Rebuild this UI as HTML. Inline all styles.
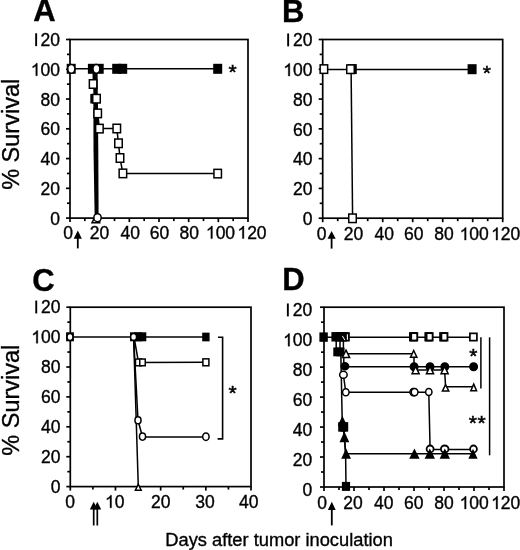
<!DOCTYPE html>
<html><head><meta charset="utf-8"><style>
html,body{margin:0;padding:0;background:#fff;width:520px;height:550px;overflow:hidden}
svg{display:block;will-change:transform}
text{font-family:"Liberation Sans",sans-serif;fill:#000;stroke:#000;stroke-width:0.35px}
.b{stroke-width:0.5px}
</style></head><body>
<svg width="520" height="550" viewBox="0 0 520 550">

<rect x="70.00" y="39.50" width="178.00" height="178.60" fill="none" stroke="#000" stroke-width="1.7"/>
<line x1="70.00" y1="218.10" x2="70.00" y2="222.10" stroke="#000" stroke-width="1.7"/>
<line x1="99.67" y1="218.10" x2="99.67" y2="222.10" stroke="#000" stroke-width="1.7"/>
<line x1="129.33" y1="218.10" x2="129.33" y2="222.10" stroke="#000" stroke-width="1.7"/>
<line x1="159.00" y1="218.10" x2="159.00" y2="222.10" stroke="#000" stroke-width="1.7"/>
<line x1="188.67" y1="218.10" x2="188.67" y2="222.10" stroke="#000" stroke-width="1.7"/>
<line x1="218.33" y1="218.10" x2="218.33" y2="222.10" stroke="#000" stroke-width="1.7"/>
<line x1="248.00" y1="218.10" x2="248.00" y2="222.10" stroke="#000" stroke-width="1.7"/>
<line x1="84.83" y1="218.10" x2="84.83" y2="221.10" stroke="#000" stroke-width="1.7"/>
<line x1="114.50" y1="218.10" x2="114.50" y2="221.10" stroke="#000" stroke-width="1.7"/>
<line x1="144.17" y1="218.10" x2="144.17" y2="221.10" stroke="#000" stroke-width="1.7"/>
<line x1="173.83" y1="218.10" x2="173.83" y2="221.10" stroke="#000" stroke-width="1.7"/>
<line x1="203.50" y1="218.10" x2="203.50" y2="221.10" stroke="#000" stroke-width="1.7"/>
<line x1="233.17" y1="218.10" x2="233.17" y2="221.10" stroke="#000" stroke-width="1.7"/>
<line x1="66.00" y1="218.10" x2="70.00" y2="218.10" stroke="#000" stroke-width="1.7"/>
<line x1="66.00" y1="188.33" x2="70.00" y2="188.33" stroke="#000" stroke-width="1.7"/>
<line x1="66.00" y1="158.57" x2="70.00" y2="158.57" stroke="#000" stroke-width="1.7"/>
<line x1="66.00" y1="128.80" x2="70.00" y2="128.80" stroke="#000" stroke-width="1.7"/>
<line x1="66.00" y1="99.03" x2="70.00" y2="99.03" stroke="#000" stroke-width="1.7"/>
<line x1="66.00" y1="69.27" x2="70.00" y2="69.27" stroke="#000" stroke-width="1.7"/>
<line x1="66.00" y1="39.50" x2="70.00" y2="39.50" stroke="#000" stroke-width="1.7"/>
<line x1="67.00" y1="203.22" x2="70.00" y2="203.22" stroke="#000" stroke-width="1.7"/>
<line x1="67.00" y1="173.45" x2="70.00" y2="173.45" stroke="#000" stroke-width="1.7"/>
<line x1="67.00" y1="143.68" x2="70.00" y2="143.68" stroke="#000" stroke-width="1.7"/>
<line x1="67.00" y1="113.92" x2="70.00" y2="113.92" stroke="#000" stroke-width="1.7"/>
<line x1="67.00" y1="84.15" x2="70.00" y2="84.15" stroke="#000" stroke-width="1.7"/>
<line x1="67.00" y1="54.38" x2="70.00" y2="54.38" stroke="#000" stroke-width="1.7"/>
<text x="50.27" y="224.60" font-size="17.5">0</text>
<text x="40.53" y="194.83" font-size="17.5">2</text><text x="50.27" y="194.83" font-size="17.5">0</text>
<text x="40.53" y="165.07" font-size="17.5">4</text><text x="50.27" y="165.07" font-size="17.5">0</text>
<text x="40.53" y="135.30" font-size="17.5">6</text><text x="50.27" y="135.30" font-size="17.5">0</text>
<text x="40.53" y="105.53" font-size="17.5">8</text><text x="50.27" y="105.53" font-size="17.5">0</text>
<path transform="translate(30.80,75.77) scale(0.008545,-0.008545)" d="M763 0H583V1147C540 1106 483 1065 412 1023C341 981 277 950 221 928V1102C322 1150 411 1207 486 1274C561 1341 614 1407 645 1472H763Z" stroke="#000" stroke-width="41.0"/><text x="40.53" y="75.77" font-size="17.5">0</text><text x="50.27" y="75.77" font-size="17.5">0</text>
<rect x="35.20" y="33.27" width="1.89" height="12.88" fill="#000"/><text x="40.53" y="46.00" font-size="17.5">2</text><text x="50.27" y="46.00" font-size="17.5">0</text>
<text x="63.23" y="238.60" font-size="17.5">0</text>
<text x="89.72" y="238.60" font-size="17.5">2</text><text x="99.45" y="238.60" font-size="17.5">0</text>
<text x="120.47" y="238.60" font-size="17.5">4</text><text x="130.20" y="238.60" font-size="17.5">0</text>
<text x="149.87" y="238.60" font-size="17.5">6</text><text x="159.60" y="238.60" font-size="17.5">0</text>
<text x="179.57" y="238.60" font-size="17.5">8</text><text x="189.30" y="238.60" font-size="17.5">0</text>
<path transform="translate(205.90,238.60) scale(0.008545,-0.008545)" d="M763 0H583V1147C540 1106 483 1065 412 1023C341 981 277 950 221 928V1102C322 1150 411 1207 486 1274C561 1341 614 1407 645 1472H763Z" stroke="#000" stroke-width="41.0"/><text x="215.63" y="238.60" font-size="17.5">0</text><text x="225.37" y="238.60" font-size="17.5">0</text>
<path transform="translate(237.40,238.60) scale(0.008545,-0.008545)" d="M763 0H583V1147C540 1106 483 1065 412 1023C341 981 277 950 221 928V1102C322 1150 411 1207 486 1274C561 1341 614 1407 645 1472H763Z" stroke="#000" stroke-width="41.0"/><text x="247.13" y="238.60" font-size="17.5">2</text><text x="256.87" y="238.60" font-size="17.5">0</text>
<text x="44.40" y="21.40" font-size="31" text-anchor="middle" font-weight="bold" >A</text>
<polyline points="70.50,68.80 217.70,68.80" fill="none" stroke="#000" stroke-width="1.5" stroke-linejoin="miter"/>
<polyline points="93.30,68.80 93.30,84.00 96.30,98.70 97.70,113.40 99.40,128.60 116.80,128.50 118.50,143.30 120.00,158.00 122.90,173.40 217.70,173.60" fill="none" stroke="#000" stroke-width="1.5" stroke-linejoin="miter"/>
<polygon points="93.3,72 97.6,72 98.3,150 98.6,214 94.6,214 93.5,150" fill="#000"/>
<polygon points="95.80,214.93 99.61,222.85 91.99,222.85" fill="#fff" stroke="#000" stroke-width="1.5" stroke-linejoin="miter" stroke-miterlimit="10"/>
<rect x="90.3" y="93.9" width="3.5" height="9.6" fill="#000"/>
<rect x="89.35" y="79.75" width="7.50" height="8.50" fill="#fff" stroke="#000" stroke-width="1.5"/>
<rect x="92.75" y="94.45" width="7.50" height="8.50" fill="#fff" stroke="#000" stroke-width="1.5"/>
<rect x="93.95" y="109.15" width="7.50" height="8.50" fill="#fff" stroke="#000" stroke-width="1.5"/>
<rect x="95.65" y="124.35" width="7.50" height="8.50" fill="#fff" stroke="#000" stroke-width="1.5"/>
<rect x="113.05" y="124.25" width="7.50" height="8.50" fill="#fff" stroke="#000" stroke-width="1.5"/>
<rect x="114.75" y="139.05" width="7.50" height="8.50" fill="#fff" stroke="#000" stroke-width="1.5"/>
<rect x="116.25" y="153.75" width="7.50" height="8.50" fill="#fff" stroke="#000" stroke-width="1.5"/>
<rect x="119.15" y="169.15" width="7.50" height="8.50" fill="#fff" stroke="#000" stroke-width="1.5"/>
<rect x="213.95" y="169.35" width="7.50" height="8.50" fill="#fff" stroke="#000" stroke-width="1.5"/>
<rect x="67.45" y="64.55" width="7.50" height="8.50" fill="#000" stroke="#000" stroke-width="1.5"/>
<rect x="88.65" y="64.55" width="7.50" height="8.50" fill="#000" stroke="#000" stroke-width="1.5"/>
<rect x="95.45" y="64.55" width="7.50" height="8.50" fill="#000" stroke="#000" stroke-width="1.5"/>
<rect x="112.95" y="64.55" width="7.50" height="8.50" fill="#000" stroke="#000" stroke-width="1.5"/>
<rect x="118.95" y="64.55" width="7.50" height="8.50" fill="#000" stroke="#000" stroke-width="1.5"/>
<rect x="213.95" y="64.55" width="7.50" height="8.50" fill="#000" stroke="#000" stroke-width="1.5"/>
<ellipse cx="71.30" cy="68.80" rx="3.55" ry="4.35" fill="#fff" stroke="#000" stroke-width="1.5"/>
<ellipse cx="96.40" cy="68.80" rx="3.45" ry="4.35" fill="#fff" stroke="#000" stroke-width="1.5"/>
<ellipse cx="97.50" cy="217.70" rx="3.65" ry="4.05" fill="#fff" stroke="#000" stroke-width="1.5"/>
<text x="232.70" y="79.27" font-size="21.0" text-anchor="middle" class="b">*</text>
<polygon points="77.80,230.60 81.90,238.75 73.70,238.75" fill="#000"/>
<line x1="77.80" y1="237.75" x2="77.80" y2="248.40" stroke="#000" stroke-width="1.8"/>
<rect x="322.70" y="39.50" width="180.00" height="178.70" fill="none" stroke="#000" stroke-width="1.7"/>
<line x1="322.70" y1="218.20" x2="322.70" y2="222.20" stroke="#000" stroke-width="1.7"/>
<line x1="352.70" y1="218.20" x2="352.70" y2="222.20" stroke="#000" stroke-width="1.7"/>
<line x1="382.70" y1="218.20" x2="382.70" y2="222.20" stroke="#000" stroke-width="1.7"/>
<line x1="412.70" y1="218.20" x2="412.70" y2="222.20" stroke="#000" stroke-width="1.7"/>
<line x1="442.70" y1="218.20" x2="442.70" y2="222.20" stroke="#000" stroke-width="1.7"/>
<line x1="472.70" y1="218.20" x2="472.70" y2="222.20" stroke="#000" stroke-width="1.7"/>
<line x1="502.70" y1="218.20" x2="502.70" y2="222.20" stroke="#000" stroke-width="1.7"/>
<line x1="337.70" y1="218.20" x2="337.70" y2="221.20" stroke="#000" stroke-width="1.7"/>
<line x1="367.70" y1="218.20" x2="367.70" y2="221.20" stroke="#000" stroke-width="1.7"/>
<line x1="397.70" y1="218.20" x2="397.70" y2="221.20" stroke="#000" stroke-width="1.7"/>
<line x1="427.70" y1="218.20" x2="427.70" y2="221.20" stroke="#000" stroke-width="1.7"/>
<line x1="457.70" y1="218.20" x2="457.70" y2="221.20" stroke="#000" stroke-width="1.7"/>
<line x1="487.70" y1="218.20" x2="487.70" y2="221.20" stroke="#000" stroke-width="1.7"/>
<line x1="318.70" y1="218.20" x2="322.70" y2="218.20" stroke="#000" stroke-width="1.7"/>
<line x1="318.70" y1="188.42" x2="322.70" y2="188.42" stroke="#000" stroke-width="1.7"/>
<line x1="318.70" y1="158.63" x2="322.70" y2="158.63" stroke="#000" stroke-width="1.7"/>
<line x1="318.70" y1="128.85" x2="322.70" y2="128.85" stroke="#000" stroke-width="1.7"/>
<line x1="318.70" y1="99.07" x2="322.70" y2="99.07" stroke="#000" stroke-width="1.7"/>
<line x1="318.70" y1="69.28" x2="322.70" y2="69.28" stroke="#000" stroke-width="1.7"/>
<line x1="318.70" y1="39.50" x2="322.70" y2="39.50" stroke="#000" stroke-width="1.7"/>
<line x1="319.70" y1="203.31" x2="322.70" y2="203.31" stroke="#000" stroke-width="1.7"/>
<line x1="319.70" y1="173.52" x2="322.70" y2="173.52" stroke="#000" stroke-width="1.7"/>
<line x1="319.70" y1="143.74" x2="322.70" y2="143.74" stroke="#000" stroke-width="1.7"/>
<line x1="319.70" y1="113.96" x2="322.70" y2="113.96" stroke="#000" stroke-width="1.7"/>
<line x1="319.70" y1="84.18" x2="322.70" y2="84.18" stroke="#000" stroke-width="1.7"/>
<line x1="319.70" y1="54.39" x2="322.70" y2="54.39" stroke="#000" stroke-width="1.7"/>
<text x="302.77" y="224.90" font-size="17.5">0</text>
<text x="293.03" y="195.12" font-size="17.5">2</text><text x="302.77" y="195.12" font-size="17.5">0</text>
<text x="293.03" y="165.33" font-size="17.5">4</text><text x="302.77" y="165.33" font-size="17.5">0</text>
<text x="293.03" y="135.55" font-size="17.5">6</text><text x="302.77" y="135.55" font-size="17.5">0</text>
<text x="293.03" y="105.77" font-size="17.5">8</text><text x="302.77" y="105.77" font-size="17.5">0</text>
<path transform="translate(283.30,75.98) scale(0.008545,-0.008545)" d="M763 0H583V1147C540 1106 483 1065 412 1023C341 981 277 950 221 928V1102C322 1150 411 1207 486 1274C561 1341 614 1407 645 1472H763Z" stroke="#000" stroke-width="41.0"/><text x="293.03" y="75.98" font-size="17.5">0</text><text x="302.77" y="75.98" font-size="17.5">0</text>
<rect x="287.20" y="33.47" width="1.89" height="12.88" fill="#000"/><text x="293.03" y="46.20" font-size="17.5">2</text><text x="302.77" y="46.20" font-size="17.5">0</text>
<text x="316.83" y="240.10" font-size="17.5">0</text>
<text x="343.77" y="240.10" font-size="17.5">2</text><text x="353.50" y="240.10" font-size="17.5">0</text>
<text x="374.47" y="240.10" font-size="17.5">4</text><text x="384.20" y="240.10" font-size="17.5">0</text>
<text x="404.07" y="240.10" font-size="17.5">6</text><text x="413.80" y="240.10" font-size="17.5">0</text>
<text x="434.17" y="240.10" font-size="17.5">8</text><text x="443.90" y="240.10" font-size="17.5">0</text>
<path transform="translate(459.60,240.10) scale(0.008545,-0.008545)" d="M763 0H583V1147C540 1106 483 1065 412 1023C341 981 277 950 221 928V1102C322 1150 411 1207 486 1274C561 1341 614 1407 645 1472H763Z" stroke="#000" stroke-width="41.0"/><text x="469.33" y="240.10" font-size="17.5">0</text><text x="479.07" y="240.10" font-size="17.5">0</text>
<path transform="translate(491.10,240.10) scale(0.008545,-0.008545)" d="M763 0H583V1147C540 1106 483 1065 412 1023C341 981 277 950 221 928V1102C322 1150 411 1207 486 1274C561 1341 614 1407 645 1472H763Z" stroke="#000" stroke-width="41.0"/><text x="500.83" y="240.10" font-size="17.5">2</text><text x="510.57" y="240.10" font-size="17.5">0</text>
<text x="293.20" y="21.50" font-size="31" text-anchor="middle" font-weight="bold" >B</text>
<polyline points="323.90,69.40 472.10,69.40" fill="none" stroke="#000" stroke-width="1.5" stroke-linejoin="miter"/>
<polyline points="351.10,69.40 352.60,218.30" fill="none" stroke="#000" stroke-width="1.5" stroke-linejoin="miter"/>
<rect x="320.15" y="64.85" width="7.50" height="8.50" fill="#fff" stroke="#000" stroke-width="1.5"/>
<rect x="348.55" y="64.85" width="7.50" height="8.50" fill="#000" stroke="#000" stroke-width="1.5"/>
<rect x="346.75" y="64.95" width="7.50" height="8.50" fill="#fff" stroke="#000" stroke-width="1.5"/>
<rect x="348.75" y="214.05" width="7.50" height="8.50" fill="#fff" stroke="#000" stroke-width="1.5"/>
<rect x="468.35" y="64.95" width="7.50" height="8.50" fill="#000" stroke="#000" stroke-width="1.5"/>
<text x="486.80" y="79.97" font-size="21.0" text-anchor="middle" class="b">*</text>
<polygon points="331.60,230.90 335.70,238.80 327.50,238.80" fill="#000"/>
<line x1="331.60" y1="237.80" x2="331.60" y2="248.60" stroke="#000" stroke-width="1.8"/>
<rect x="70.30" y="307.20" width="180.70" height="179.40" fill="none" stroke="#000" stroke-width="1.7"/>
<line x1="70.30" y1="486.60" x2="70.30" y2="490.60" stroke="#000" stroke-width="1.7"/>
<line x1="115.47" y1="486.60" x2="115.47" y2="490.60" stroke="#000" stroke-width="1.7"/>
<line x1="160.65" y1="486.60" x2="160.65" y2="490.60" stroke="#000" stroke-width="1.7"/>
<line x1="205.82" y1="486.60" x2="205.82" y2="490.60" stroke="#000" stroke-width="1.7"/>
<line x1="251.00" y1="486.60" x2="251.00" y2="490.60" stroke="#000" stroke-width="1.7"/>
<line x1="92.89" y1="486.60" x2="92.89" y2="489.60" stroke="#000" stroke-width="1.7"/>
<line x1="138.06" y1="486.60" x2="138.06" y2="489.60" stroke="#000" stroke-width="1.7"/>
<line x1="183.24" y1="486.60" x2="183.24" y2="489.60" stroke="#000" stroke-width="1.7"/>
<line x1="228.41" y1="486.60" x2="228.41" y2="489.60" stroke="#000" stroke-width="1.7"/>
<line x1="66.30" y1="486.60" x2="70.30" y2="486.60" stroke="#000" stroke-width="1.7"/>
<line x1="66.30" y1="456.70" x2="70.30" y2="456.70" stroke="#000" stroke-width="1.7"/>
<line x1="66.30" y1="426.80" x2="70.30" y2="426.80" stroke="#000" stroke-width="1.7"/>
<line x1="66.30" y1="396.90" x2="70.30" y2="396.90" stroke="#000" stroke-width="1.7"/>
<line x1="66.30" y1="367.00" x2="70.30" y2="367.00" stroke="#000" stroke-width="1.7"/>
<line x1="66.30" y1="337.10" x2="70.30" y2="337.10" stroke="#000" stroke-width="1.7"/>
<line x1="66.30" y1="307.20" x2="70.30" y2="307.20" stroke="#000" stroke-width="1.7"/>
<line x1="67.30" y1="471.65" x2="70.30" y2="471.65" stroke="#000" stroke-width="1.7"/>
<line x1="67.30" y1="441.75" x2="70.30" y2="441.75" stroke="#000" stroke-width="1.7"/>
<line x1="67.30" y1="411.85" x2="70.30" y2="411.85" stroke="#000" stroke-width="1.7"/>
<line x1="67.30" y1="381.95" x2="70.30" y2="381.95" stroke="#000" stroke-width="1.7"/>
<line x1="67.30" y1="352.05" x2="70.30" y2="352.05" stroke="#000" stroke-width="1.7"/>
<line x1="67.30" y1="322.15" x2="70.30" y2="322.15" stroke="#000" stroke-width="1.7"/>
<text x="50.77" y="492.70" font-size="17.5">0</text>
<text x="41.03" y="462.80" font-size="17.5">2</text><text x="50.77" y="462.80" font-size="17.5">0</text>
<text x="41.03" y="432.90" font-size="17.5">4</text><text x="50.77" y="432.90" font-size="17.5">0</text>
<text x="41.03" y="403.00" font-size="17.5">6</text><text x="50.77" y="403.00" font-size="17.5">0</text>
<text x="41.03" y="373.10" font-size="17.5">8</text><text x="50.77" y="373.10" font-size="17.5">0</text>
<path transform="translate(31.30,343.20) scale(0.008545,-0.008545)" d="M763 0H583V1147C540 1106 483 1065 412 1023C341 981 277 950 221 928V1102C322 1150 411 1207 486 1274C561 1341 614 1407 645 1472H763Z" stroke="#000" stroke-width="41.0"/><text x="41.03" y="343.20" font-size="17.5">0</text><text x="50.77" y="343.20" font-size="17.5">0</text>
<rect x="35.30" y="300.57" width="1.89" height="12.88" fill="#000"/><text x="41.03" y="313.30" font-size="17.5">2</text><text x="50.77" y="313.30" font-size="17.5">0</text>
<text x="65.33" y="507.80" font-size="17.5">0</text>
<path transform="translate(105.02,507.80) scale(0.008545,-0.008545)" d="M763 0H583V1147C540 1106 483 1065 412 1023C341 981 277 950 221 928V1102C322 1150 411 1207 486 1274C561 1341 614 1407 645 1472H763Z" stroke="#000" stroke-width="41.0"/><text x="114.75" y="507.80" font-size="17.5">0</text>
<text x="151.07" y="507.80" font-size="17.5">2</text><text x="160.80" y="507.80" font-size="17.5">0</text>
<text x="195.27" y="507.80" font-size="17.5">3</text><text x="205.00" y="507.80" font-size="17.5">0</text>
<text x="238.97" y="507.80" font-size="17.5">4</text><text x="248.70" y="507.80" font-size="17.5">0</text>
<text x="43.50" y="290.50" font-size="31" text-anchor="middle" font-weight="bold" >C</text>
<polyline points="70.20,336.90 205.90,337.00" fill="none" stroke="#000" stroke-width="1.5" stroke-linejoin="miter"/>
<polyline points="133.60,337.00 138.30,486.60" fill="none" stroke="#000" stroke-width="1.5" stroke-linejoin="miter"/>
<polyline points="133.60,337.00 138.00,420.30 142.50,436.90 205.90,437.10" fill="none" stroke="#000" stroke-width="1.5" stroke-linejoin="miter"/>
<polyline points="134.00,337.00 138.50,362.40 205.90,362.30" fill="none" stroke="#000" stroke-width="1.5" stroke-linejoin="miter"/>
<polygon points="138.30,484.21 141.20,490.15 135.40,490.15" fill="#fff" stroke="#000" stroke-width="1.5" stroke-linejoin="miter" stroke-miterlimit="10"/>
<rect x="66.85" y="333.05" width="6.30" height="7.50" fill="#000" stroke="#000" stroke-width="1.5"/>
<ellipse cx="70.00" cy="337.00" rx="2.95" ry="3.45" fill="#fff" stroke="#000" stroke-width="1.5"/>
<rect x="130.75" y="333.05" width="6.30" height="7.50" fill="#000" stroke="#000" stroke-width="1.5"/>
<rect x="134.85" y="333.05" width="6.30" height="7.50" fill="#000" stroke="#000" stroke-width="1.5"/>
<rect x="139.25" y="333.05" width="6.30" height="7.50" fill="#000" stroke="#000" stroke-width="1.5"/>
<ellipse cx="133.60" cy="336.90" rx="2.95" ry="3.45" fill="#fff" stroke="#000" stroke-width="1.5"/>
<rect x="135.50" y="359.05" width="6.00" height="6.70" fill="#fff" stroke="#000" stroke-width="1.5"/>
<rect x="139.75" y="359.05" width="5.50" height="6.70" fill="#fff" stroke="#000" stroke-width="1.5"/>
<rect x="202.90" y="358.85" width="6.00" height="6.90" fill="#fff" stroke="#000" stroke-width="1.5"/>
<rect x="202.95" y="333.40" width="5.90" height="7.20" fill="#000" stroke="#000" stroke-width="1.5"/>
<ellipse cx="138.00" cy="420.30" rx="3.05" ry="3.55" fill="#fff" stroke="#000" stroke-width="1.5"/>
<ellipse cx="142.50" cy="436.60" rx="3.05" ry="3.55" fill="#fff" stroke="#000" stroke-width="1.5"/>
<ellipse cx="205.90" cy="436.70" rx="3.20" ry="3.80" fill="#fff" stroke="#000" stroke-width="1.5"/>
<polyline points="218.00,337.30 222.60,337.30 222.60,438.90 217.60,438.90" fill="none" stroke="#000" stroke-width="1.6" stroke-linejoin="miter"/>
<text x="232.50" y="399.77" font-size="21.0" text-anchor="middle" class="b">*</text>
<polygon points="93.70,501.80 97.60,509.50 89.80,509.50" fill="#000"/>
<line x1="93.70" y1="508.50" x2="93.70" y2="525.50" stroke="#000" stroke-width="1.7"/>
<polygon points="97.30,501.80 101.20,509.50 93.40,509.50" fill="#000"/>
<line x1="97.30" y1="508.50" x2="97.30" y2="525.50" stroke="#000" stroke-width="1.7"/>
<rect x="324.00" y="307.20" width="180.00" height="179.80" fill="none" stroke="#000" stroke-width="1.7"/>
<line x1="324.00" y1="487.00" x2="324.00" y2="491.00" stroke="#000" stroke-width="1.7"/>
<line x1="354.00" y1="487.00" x2="354.00" y2="491.00" stroke="#000" stroke-width="1.7"/>
<line x1="384.00" y1="487.00" x2="384.00" y2="491.00" stroke="#000" stroke-width="1.7"/>
<line x1="414.00" y1="487.00" x2="414.00" y2="491.00" stroke="#000" stroke-width="1.7"/>
<line x1="444.00" y1="487.00" x2="444.00" y2="491.00" stroke="#000" stroke-width="1.7"/>
<line x1="474.00" y1="487.00" x2="474.00" y2="491.00" stroke="#000" stroke-width="1.7"/>
<line x1="504.00" y1="487.00" x2="504.00" y2="491.00" stroke="#000" stroke-width="1.7"/>
<line x1="339.00" y1="487.00" x2="339.00" y2="490.00" stroke="#000" stroke-width="1.7"/>
<line x1="369.00" y1="487.00" x2="369.00" y2="490.00" stroke="#000" stroke-width="1.7"/>
<line x1="399.00" y1="487.00" x2="399.00" y2="490.00" stroke="#000" stroke-width="1.7"/>
<line x1="429.00" y1="487.00" x2="429.00" y2="490.00" stroke="#000" stroke-width="1.7"/>
<line x1="459.00" y1="487.00" x2="459.00" y2="490.00" stroke="#000" stroke-width="1.7"/>
<line x1="489.00" y1="487.00" x2="489.00" y2="490.00" stroke="#000" stroke-width="1.7"/>
<line x1="320.00" y1="487.00" x2="324.00" y2="487.00" stroke="#000" stroke-width="1.7"/>
<line x1="320.00" y1="457.03" x2="324.00" y2="457.03" stroke="#000" stroke-width="1.7"/>
<line x1="320.00" y1="427.07" x2="324.00" y2="427.07" stroke="#000" stroke-width="1.7"/>
<line x1="320.00" y1="397.10" x2="324.00" y2="397.10" stroke="#000" stroke-width="1.7"/>
<line x1="320.00" y1="367.13" x2="324.00" y2="367.13" stroke="#000" stroke-width="1.7"/>
<line x1="320.00" y1="337.17" x2="324.00" y2="337.17" stroke="#000" stroke-width="1.7"/>
<line x1="320.00" y1="307.20" x2="324.00" y2="307.20" stroke="#000" stroke-width="1.7"/>
<line x1="321.00" y1="472.02" x2="324.00" y2="472.02" stroke="#000" stroke-width="1.7"/>
<line x1="321.00" y1="442.05" x2="324.00" y2="442.05" stroke="#000" stroke-width="1.7"/>
<line x1="321.00" y1="412.08" x2="324.00" y2="412.08" stroke="#000" stroke-width="1.7"/>
<line x1="321.00" y1="382.12" x2="324.00" y2="382.12" stroke="#000" stroke-width="1.7"/>
<line x1="321.00" y1="352.15" x2="324.00" y2="352.15" stroke="#000" stroke-width="1.7"/>
<line x1="321.00" y1="322.18" x2="324.00" y2="322.18" stroke="#000" stroke-width="1.7"/>
<text x="302.57" y="496.00" font-size="17.5">0</text>
<text x="292.83" y="466.03" font-size="17.5">2</text><text x="302.57" y="466.03" font-size="17.5">0</text>
<text x="292.83" y="436.07" font-size="17.5">4</text><text x="302.57" y="436.07" font-size="17.5">0</text>
<text x="292.83" y="406.10" font-size="17.5">6</text><text x="302.57" y="406.10" font-size="17.5">0</text>
<text x="292.83" y="376.13" font-size="17.5">8</text><text x="302.57" y="376.13" font-size="17.5">0</text>
<path transform="translate(283.10,346.17) scale(0.008545,-0.008545)" d="M763 0H583V1147C540 1106 483 1065 412 1023C341 981 277 950 221 928V1102C322 1150 411 1207 486 1274C561 1341 614 1407 645 1472H763Z" stroke="#000" stroke-width="41.0"/><text x="292.83" y="346.17" font-size="17.5">0</text><text x="302.57" y="346.17" font-size="17.5">0</text>
<rect x="286.90" y="303.47" width="1.89" height="12.88" fill="#000"/><text x="292.83" y="316.20" font-size="17.5">2</text><text x="302.57" y="316.20" font-size="17.5">0</text>
<text x="317.33" y="508.90" font-size="17.5">0</text>
<text x="343.27" y="508.90" font-size="17.5">2</text><text x="353.00" y="508.90" font-size="17.5">0</text>
<text x="374.07" y="508.90" font-size="17.5">4</text><text x="383.80" y="508.90" font-size="17.5">0</text>
<text x="404.07" y="508.90" font-size="17.5">6</text><text x="413.80" y="508.90" font-size="17.5">0</text>
<text x="434.17" y="508.90" font-size="17.5">8</text><text x="443.90" y="508.90" font-size="17.5">0</text>
<path transform="translate(459.60,508.90) scale(0.008545,-0.008545)" d="M763 0H583V1147C540 1106 483 1065 412 1023C341 981 277 950 221 928V1102C322 1150 411 1207 486 1274C561 1341 614 1407 645 1472H763Z" stroke="#000" stroke-width="41.0"/><text x="469.33" y="508.90" font-size="17.5">0</text><text x="479.07" y="508.90" font-size="17.5">0</text>
<path transform="translate(491.10,508.90) scale(0.008545,-0.008545)" d="M763 0H583V1147C540 1106 483 1065 412 1023C341 981 277 950 221 928V1102C322 1150 411 1207 486 1274C561 1341 614 1407 645 1472H763Z" stroke="#000" stroke-width="41.0"/><text x="500.83" y="508.90" font-size="17.5">2</text><text x="510.57" y="508.90" font-size="17.5">0</text>
<text x="293.40" y="290.20" font-size="31" text-anchor="middle" font-weight="bold" >D</text>
<polyline points="323.60,337.20 473.40,337.20" fill="none" stroke="#000" stroke-width="1.5" stroke-linejoin="miter"/>
<polyline points="336.20,337.00 336.20,350.00" fill="none" stroke="#000" stroke-width="1.5" stroke-linejoin="miter"/>
<polyline points="340.00,337.00 340.00,350.00" fill="none" stroke="#000" stroke-width="1.5" stroke-linejoin="miter"/>
<polyline points="343.40,337.00 343.40,350.00" fill="none" stroke="#000" stroke-width="1.5" stroke-linejoin="miter"/>
<polyline points="345.80,353.80 413.80,353.80" fill="none" stroke="#000" stroke-width="1.5" stroke-linejoin="miter"/>
<polyline points="414.00,353.80 414.00,370.00 444.60,370.00 445.60,386.80 473.70,386.80" fill="none" stroke="#000" stroke-width="1.5" stroke-linejoin="miter"/>
<polyline points="344.90,366.70 473.60,366.70" fill="none" stroke="#000" stroke-width="1.5" stroke-linejoin="miter"/>
<polyline points="343.80,355.00 343.80,366.00" fill="none" stroke="#000" stroke-width="1.5" stroke-linejoin="miter"/>
<polyline points="340.80,352.00 342.20,420.00" fill="none" stroke="#000" stroke-width="1.5" stroke-linejoin="miter"/>
<polyline points="343.40,374.80 345.80,392.30 428.80,392.30 430.10,449.50 473.10,449.50" fill="none" stroke="#000" stroke-width="1.5" stroke-linejoin="miter"/>
<polyline points="342.40,420.00 344.40,437.00 345.60,453.80 472.80,453.80" fill="none" stroke="#000" stroke-width="1.5" stroke-linejoin="miter"/>
<polyline points="343.30,426.90 344.40,437.00 345.60,453.80 346.00,486.40" fill="none" stroke="#000" stroke-width="1.5" stroke-linejoin="miter"/>
<rect x="320.15" y="333.15" width="6.90" height="7.90" fill="#000" stroke="#000" stroke-width="1.5"/>
<rect x="332.15" y="332.85" width="6.70" height="7.90" fill="#000" stroke="#000" stroke-width="1.5"/>
<rect x="336.15" y="332.85" width="6.70" height="7.90" fill="#000" stroke="#000" stroke-width="1.5"/>
<rect x="339.65" y="332.85" width="6.70" height="7.90" fill="#000" stroke="#000" stroke-width="1.5"/>
<rect x="342.15" y="332.85" width="6.90" height="7.90" fill="#000" stroke="#000" stroke-width="1.5"/>
<line x1="342.4" y1="335.9" x2="344.8" y2="340.1" stroke="#fff" stroke-width="1.0"/>
<line x1="347.4" y1="334.2" x2="347.4" y2="339.8" stroke="#fff" stroke-width="1.1"/>
<rect x="334.05" y="348.25" width="6.50" height="7.30" fill="#000" stroke="#000" stroke-width="1.5"/>
<rect x="337.25" y="348.25" width="6.50" height="7.30" fill="#000" stroke="#000" stroke-width="1.5"/>
<polygon points="346.00,350.11 349.60,357.45 342.40,357.45" fill="#fff" stroke="#000" stroke-width="1.5" stroke-linejoin="miter" stroke-miterlimit="10"/>
<ellipse cx="344.90" cy="366.20" rx="3.75" ry="3.55" fill="#000" stroke="#000" stroke-width="1.5"/>
<ellipse cx="343.40" cy="374.80" rx="3.75" ry="3.55" fill="#fff" stroke="#000" stroke-width="1.5"/>
<ellipse cx="345.80" cy="392.30" rx="3.25" ry="3.55" fill="#fff" stroke="#000" stroke-width="1.5"/>
<polygon points="342.40,417.56 345.92,425.05 338.88,425.05" fill="#000" stroke="#000" stroke-width="1.5" stroke-linejoin="miter" stroke-miterlimit="10"/>
<rect x="338.95" y="422.90" width="6.50" height="8.00" fill="#000" stroke="#000" stroke-width="1.5"/>
<rect x="340.95" y="422.90" width="6.50" height="8.00" fill="#000" stroke="#000" stroke-width="1.5"/>
<polygon points="344.40,433.39 348.13,441.45 340.67,441.45" fill="#000" stroke="#000" stroke-width="1.5" stroke-linejoin="miter" stroke-miterlimit="10"/>
<polygon points="346.10,449.99 349.83,458.05 342.37,458.05" fill="#000" stroke="#000" stroke-width="1.5" stroke-linejoin="miter" stroke-miterlimit="10"/>
<rect x="342.65" y="482.65" width="6.70" height="7.50" fill="#000" stroke="#000" stroke-width="1.5"/>
<rect x="409.95" y="333.10" width="6.10" height="7.40" fill="#fff" stroke="#000" stroke-width="1.9"/>
<rect x="411.15" y="333.10" width="6.10" height="7.40" fill="#fff" stroke="#000" stroke-width="1.9"/>
<rect x="425.35" y="333.10" width="6.10" height="7.40" fill="#fff" stroke="#000" stroke-width="1.9"/>
<rect x="426.55" y="333.10" width="6.10" height="7.40" fill="#fff" stroke="#000" stroke-width="1.9"/>
<rect x="440.15" y="333.10" width="6.10" height="7.40" fill="#fff" stroke="#000" stroke-width="1.9"/>
<rect x="441.35" y="333.10" width="6.10" height="7.40" fill="#fff" stroke="#000" stroke-width="1.9"/>
<rect x="469.90" y="333.35" width="7.00" height="7.30" fill="#fff" stroke="#000" stroke-width="1.7"/>
<polygon points="413.70,350.55 416.87,357.25 410.53,357.25" fill="#fff" stroke="#000" stroke-width="1.5" stroke-linejoin="miter" stroke-miterlimit="10"/>
<ellipse cx="414.10" cy="366.80" rx="3.75" ry="3.75" fill="#000" stroke="#000" stroke-width="1.5"/>
<ellipse cx="430.00" cy="366.80" rx="3.75" ry="3.75" fill="#000" stroke="#000" stroke-width="1.5"/>
<ellipse cx="444.80" cy="366.80" rx="3.75" ry="3.75" fill="#000" stroke="#000" stroke-width="1.5"/>
<ellipse cx="473.60" cy="366.80" rx="3.75" ry="3.75" fill="#000" stroke="#000" stroke-width="1.5"/>
<polygon points="415.60,366.32 419.15,373.65 412.05,373.65" fill="#fff" stroke="#000" stroke-width="1.5" stroke-linejoin="miter" stroke-miterlimit="10"/>
<polygon points="430.00,366.32 433.55,373.65 426.45,373.65" fill="#fff" stroke="#000" stroke-width="1.5" stroke-linejoin="miter" stroke-miterlimit="10"/>
<polygon points="444.60,366.32 448.15,373.65 441.05,373.65" fill="#fff" stroke="#000" stroke-width="1.5" stroke-linejoin="miter" stroke-miterlimit="10"/>
<polygon points="445.60,384.75 448.77,390.95 442.43,390.95" fill="#fff" stroke="#000" stroke-width="1.5" stroke-linejoin="miter" stroke-miterlimit="10"/>
<polygon points="473.70,384.08 476.56,390.65 470.84,390.65" fill="#fff" stroke="#000" stroke-width="1.5" stroke-linejoin="miter" stroke-miterlimit="10"/>
<ellipse cx="413.40" cy="392.10" rx="3.45" ry="3.65" fill="#fff" stroke="#000" stroke-width="1.5"/>
<ellipse cx="414.60" cy="392.10" rx="3.35" ry="3.65" fill="#fff" stroke="#000" stroke-width="1.5"/>
<ellipse cx="428.80" cy="392.00" rx="3.15" ry="3.55" fill="#fff" stroke="#000" stroke-width="1.5"/>
<ellipse cx="430.10" cy="449.00" rx="3.50" ry="3.50" fill="#fff" stroke="#000" stroke-width="1.8"/>
<ellipse cx="444.70" cy="449.00" rx="3.80" ry="3.50" fill="#fff" stroke="#000" stroke-width="1.8"/>
<ellipse cx="473.50" cy="449.00" rx="3.40" ry="3.50" fill="#fff" stroke="#000" stroke-width="1.8"/>
<polygon points="414.40,450.08 418.39,458.05 410.41,458.05" fill="#000" stroke="#000" stroke-width="1.5" stroke-linejoin="miter" stroke-miterlimit="10"/>
<polygon points="429.80,450.08 433.79,458.05 425.81,458.05" fill="#000" stroke="#000" stroke-width="1.5" stroke-linejoin="miter" stroke-miterlimit="10"/>
<polygon points="444.80,450.08 448.79,458.05 440.81,458.05" fill="#000" stroke="#000" stroke-width="1.5" stroke-linejoin="miter" stroke-miterlimit="10"/>
<polygon points="473.00,450.59 476.43,458.05 469.57,458.05" fill="#000" stroke="#000" stroke-width="1.5" stroke-linejoin="miter" stroke-miterlimit="10"/>
<polyline points="480.90,337.30 480.90,388.40" fill="none" stroke="#000" stroke-width="1.5" stroke-linejoin="miter"/>
<polyline points="489.60,337.30 489.60,455.30" fill="none" stroke="#000" stroke-width="1.5" stroke-linejoin="miter"/>
<text x="473.40" y="362.57" font-size="21.0" text-anchor="middle" class="b">*</text>
<text x="472.80" y="430.47" font-size="21.0" text-anchor="middle" class="b">*</text>
<text x="481.50" y="430.47" font-size="21.0" text-anchor="middle" class="b">*</text>
<polygon points="331.80,501.80 335.70,509.90 327.90,509.90" fill="#000"/>
<line x1="331.80" y1="508.90" x2="331.80" y2="525.40" stroke="#000" stroke-width="1.8"/>
<text transform="translate(18.6,134.3) rotate(-90)" font-size="23.5" text-anchor="middle">% Survival</text>
<text transform="translate(18.6,400.2) rotate(-90)" font-size="23.5" text-anchor="middle">% Survival</text>
<text x="279.1" y="545.8" font-size="18.3" text-anchor="middle">Days after tumor inoculation</text>
</svg></body></html>
